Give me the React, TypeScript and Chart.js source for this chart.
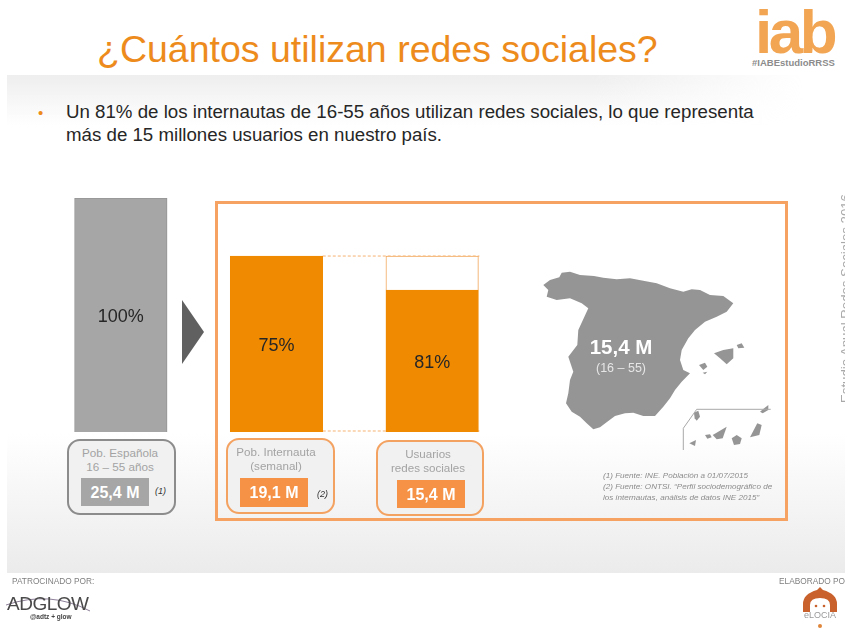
import React, { useEffect, useRef } from "react";
import { Chart, registerables } from "chart.js";

Chart.register(...registerables);

const categories = ["Pob. Española", "Pob. Internauta", "Usuarios redes sociales"];
const millones = [25.4, 19.1, 15.4];
const resto = [0, 0, 3.7];
const porcentajes = ["100%", "75%", "81%"];
const barColors = ["#a6a6a6", "#f08a00", "#f08a00"];
const barBorders = ["#949494", "#f08a00", "#f08a00"];

const FONT = "'Liberation Sans', Arial, sans-serif";

const overlayPlugin = {
  id: "overlay",
  beforeDatasetsDraw(chart: any) {
    const { ctx, scales } = chart;
    const meta = chart.getDatasetMeta(0);
    const a = meta.data[1];
    const b = meta.data[2];
    const yTop = scales.y.getPixelForValue(millones[1]);
    const yBot = scales.y.getPixelForValue(0) - 1;
    ctx.save();
    ctx.strokeStyle = "#f5b272";
    ctx.lineWidth = 1;
    ctx.setLineDash([3, 2]);
    [yTop, yBot].forEach((y: number) => {
      ctx.beginPath();
      ctx.moveTo(a.x + a.width / 2, y);
      ctx.lineTo(b.x + b.width / 2 + 1, y);
      ctx.stroke();
    });
    ctx.restore();
  },
  afterDatasetsDraw(chart: any) {
    const { ctx } = chart;
    const meta = chart.getDatasetMeta(0);
    ctx.save();
    ctx.font = `18px ${FONT}`;
    ctx.fillStyle = "#262626";
    ctx.textAlign = "center";
    ctx.textBaseline = "middle";
    meta.data.forEach((el: any, i: number) => {
      ctx.fillText(porcentajes[i], el.x, (el.y + el.base) / 2 + 2);
    });
    ctx.restore();
  },
};

const abs = (s: React.CSSProperties): React.CSSProperties => ({ position: "absolute", ...s });

function Txt(props: { x: number; y: number; size: number; color: string; bold?: boolean; italic?: boolean; align?: "c" | "l" | "r"; children: React.ReactNode; font?: string; spacing?: number }) {
  const { x, y, size, color, bold, italic, align = "l", children, font, spacing } = props;
  const tx = align === "c" ? "-50%" : align === "r" ? "-100%" : "0";
  return (
    <div
      style={abs({
        left: x,
        top: y,
        transform: `translate(${tx}, -50%)`,
        fontFamily: font || FONT,
        fontSize: size,
        color,
        fontWeight: bold ? 700 : 400,
        fontStyle: italic ? "italic" : "normal",
        letterSpacing: spacing,
        whiteSpace: "nowrap",
        lineHeight: 1,
      })}
    >
      {children}
    </div>
  );
}

function Box(props: { x: number; y: number; w: number; h: number; border: string }) {
  const { x, y, w, h, border } = props;
  return (
    <div
      style={abs({
        left: x,
        top: y,
        width: w,
        height: h,
        boxSizing: "border-box",
        border: `2px solid ${border}`,
        borderRadius: 13,
        background: "#f1f1f1",
      })}
    />
  );
}

function Fill(props: { x: number; y: number; w: number; h: number; color: string }) {
  const { x, y, w, h, color } = props;
  return <div style={abs({ left: x, top: y, width: w, height: h, background: color })} />;
}

const mapX = (v: number) => 520 + v / 3;
const mapY = (v: number) => 190 + v / 3;
const pts = (p: number[][]) => p.map(([a, b]) => `${mapX(a).toFixed(1)},${mapY(b).toFixed(1)}`).join(" ");

const peninsula = [
  [70, 285], [90, 270], [118, 262], [125, 248], [150, 245], [180, 255], [222, 258], [250, 263], [290, 268], [330, 265],
  [370, 272], [410, 280], [450, 295], [490, 305], [515, 298], [540, 300], [570, 315], [610, 318], [640, 340], [620, 365],
  [590, 380], [555, 395], [525, 420], [505, 445], [485, 480], [480, 510], [490, 540], [510, 550], [485, 575], [465, 600],
  [450, 625], [430, 650], [405, 678], [370, 678], [340, 668], [315, 670], [285, 678], [262, 695], [240, 712], [220, 718],
  [200, 700], [180, 680], [155, 665], [138, 640], [145, 610], [150, 570], [160, 545], [145, 500], [172, 465], [175, 420],
  [205, 355], [185, 340], [150, 325], [110, 330], [80, 320], [85, 300],
];
const islands = [
  [[582, 490], [610, 480], [640, 475], [640, 505], [620, 523], [600, 505]],
  [[650, 465], [665, 460], [673, 473], [655, 475]],
  [[537, 525], [555, 518], [562, 530], [550, 540]],
  [[548, 548], [562, 545], [555, 553]],
  [[522, 668], [535, 662], [540, 680], [530, 692], [524, 685]],
  [[578, 735], [620, 710], [608, 745], [590, 748]],
  [[555, 735], [570, 733], [575, 742], [562, 746]],
  [[508, 760], [528, 750], [525, 768]],
  [[635, 745], [650, 735], [665, 745], [660, 762], [642, 765]],
  [[690, 742], [712, 700], [725, 705], [718, 735]],
  [[720, 665], [745, 645], [745, 660], [728, 670]],
];

export default function App() {
  const ref = useRef<HTMLCanvasElement>(null);
  useEffect(() => {
    const chart = new Chart(ref.current!, {
      type: "bar",
      data: {
        labels: categories,
        datasets: [
          { label: "Millones", data: millones, backgroundColor: barColors, borderColor: barBorders, borderWidth: 1, barThickness: 92.5 },
          { label: "Resto", data: resto, backgroundColor: "#ffffff", borderColor: "#f2a65a", borderWidth: 1, barThickness: 92.5 },
        ],
      },
      options: {
        responsive: false,
        animation: false,
        layout: { padding: { left: 43, right: 335, top: 198, bottom: 196 } },
        plugins: { legend: { display: false }, tooltip: { enabled: false } },
        scales: {
          x: { display: false, stacked: true },
          y: { display: false, stacked: true, min: 0, max: 25.4 },
        },
      },
      plugins: [overlayPlugin],
    } as any);
    return () => chart.destroy();
  }, []);

  return (
    <div style={abs({ left: 0, top: 0, width: 845, height: 628, overflow: "hidden", background: "#fff", fontFamily: FONT, filter: "blur(0.35px)" })}>
      {/* slide background */}
      <div style={abs({ left: 7, top: 75, width: 838, height: 498, background: "linear-gradient(to bottom, #ffffff 0%, #ffffff 72%, #ebebeb 100%)" })} />
      <div style={abs({ left: 7, top: 75, width: 838, height: 50, background: "linear-gradient(to bottom, #eeeeee 0%, rgba(255,255,255,0) 100%)", WebkitMaskImage: "linear-gradient(to right, #000 70%, transparent 95%)" })} />

      <Txt x={97} y={50} size={37.5} color="#ed8b1c">¿Cuántos utilizan redes sociales?</Txt>
      <Txt x={755} y={32} size={62} color="#f2a653" bold spacing={-3.5}>iab</Txt>
      <Txt x={752} y={63} size={9.5} color="#8c8c8c" bold>#IABEstudioRRSS</Txt>

      <Txt x={38} y={112} size={15} color="#ed8b1c">•</Txt>
      <Txt x={66} y={112} size={18.7} color="#262626">Un 81% de los internautas de 16-55 años utilizan redes sociales, lo que representa</Txt>
      <Txt x={66} y={135} size={18.7} color="#262626">más de 15 millones usuarios en nuestro país.</Txt>

      {/* frame */}
      <div style={abs({ left: 215, top: 201, width: 573, height: 320, boxSizing: "border-box", border: "3px solid #f5a263" })} />

      {/* arrow, map, logos */}
      <svg width={845} height={628} style={abs({ left: 0, top: 0 })}>
        <polygon points="182,300 204,332 182,364" fill="#606060" />
        <polygon points={pts(peninsula)} fill="#959595" />
        {islands.map((p, i) => (
          <polygon key={i} points={pts(p)} fill="#959595" />
        ))}
        <polyline points={pts([[490, 780], [490, 715], [530, 658], [752, 658]])} fill="none" stroke="#a8a8a8" strokeWidth={1} />
        <path d="M6 605 Q50 590 90 611" fill="none" stroke="#8d7f99" strokeWidth={1} />
        <path d="M803 612 V604 Q803 594 817 590 L820 587 L823 590 Q837 594 837 604 V612 H830 V605 Q830 598 820 598 Q810 598 810 605 V612 Z" fill="#c8612c" />
        <circle cx={816} cy={606} r={1.3} fill="#c8612c" />
        <circle cx={824} cy={606} r={1.3} fill="#c8612c" />
        <circle cx={820} cy={626} r={2} fill="#e0863a" />
      </svg>

      <canvas ref={ref} width={845} height={628} style={abs({ left: 0, top: 0 })} />

      {/* box 1 */}
      <Box x={67} y={439} w={109} h={76} border="#8c8c8c" />
      <Txt x={120} y={453} size={11.7} color="#a3a3a3" align="c">Pob. Española</Txt>
      <Txt x={120} y={467} size={11.7} color="#a3a3a3" align="c">16 – 55 años</Txt>
      <Fill x={81} y={478} w={68} h={28} color="#a6a6a6" />
      <Txt x={115} y={492.5} size={16} color="#fff" bold align="c">25,4 M</Txt>
      <Txt x={155} y={491} size={9} color="#333" italic>(1)</Txt>

      {/* box 2 */}
      <Box x={226} y={438} w={109} h={76} border="#f4a261" />
      <Txt x={276} y={452} size={11.6} color="#a3a3a3" align="c">Pob. Internauta</Txt>
      <Txt x={276} y={466} size={11.6} color="#a3a3a3" align="c">(semanal)</Txt>
      <Fill x={240} y={478} w={68} h={29} color="#f59245" />
      <Txt x={274} y={492.5} size={16} color="#fff" bold align="c">19,1 M</Txt>
      <Txt x={317} y={494} size={9} color="#333" italic>(2)</Txt>

      {/* box 3 */}
      <Box x={376} y={440} w={108} h={76} border="#f4a261" />
      <Txt x={428} y={454} size={11.6} color="#a3a3a3" align="c">Usuarios</Txt>
      <Txt x={428} y={468} size={11.6} color="#a3a3a3" align="c">redes sociales</Txt>
      <Fill x={397} y={480} w={68} h={28} color="#f59245" />
      <Txt x={431} y={494.5} size={16} color="#fff" bold align="c">15,4 M</Txt>

      {/* map labels */}
      <Txt x={621} y={347} size={20.5} color="#fff" bold align="c">15,4 M</Txt>
      <Txt x={621} y={368} size={12.5} color="#e6e6e6" align="c">(16 – 55)</Txt>

      <Txt x={603} y={476} size={8.1} color="#8c8c8c" italic>(1) Fuente: INE. Población a 01/07/2015</Txt>
      <Txt x={603} y={487} size={8.1} color="#8c8c8c" italic>(2) Fuente: ONTSI. “Perfil sociodemográfico de</Txt>
      <Txt x={603} y={498} size={8.1} color="#8c8c8c" italic>los internautas, análisis de datos INE 2015”</Txt>

      {/* vertical side text */}
      <div
        style={abs({
          left: 838,
          top: 193,
          height: 210,
          writingMode: "vertical-rl",
          transform: "rotate(180deg)",
          fontSize: 13.2,
          lineHeight: "16px",
          color: "#a9a9a9",
          whiteSpace: "nowrap",
        })}
      >
        Estudio Anual Redes Sociales 2016
      </div>

      {/* footer */}
      <Txt x={12} y={581} size={8.3} color="#7f7f7f">PATROCINADO POR:</Txt>
      <Txt x={779} y={581} size={8.3} color="#7f7f7f">ELABORADO POR:</Txt>
      <Txt x={7} y={603} size={19} color="#4a4a4a" spacing={-0.5}>ADGLOW</Txt>
      <Txt x={30} y={617} size={6.5} color="#444" bold>@adtz + glow</Txt>
      <Txt x={820} y={615} size={9} color="#9a9a9a" align="c">eLOCIA</Txt>
    </div>
  );
}
